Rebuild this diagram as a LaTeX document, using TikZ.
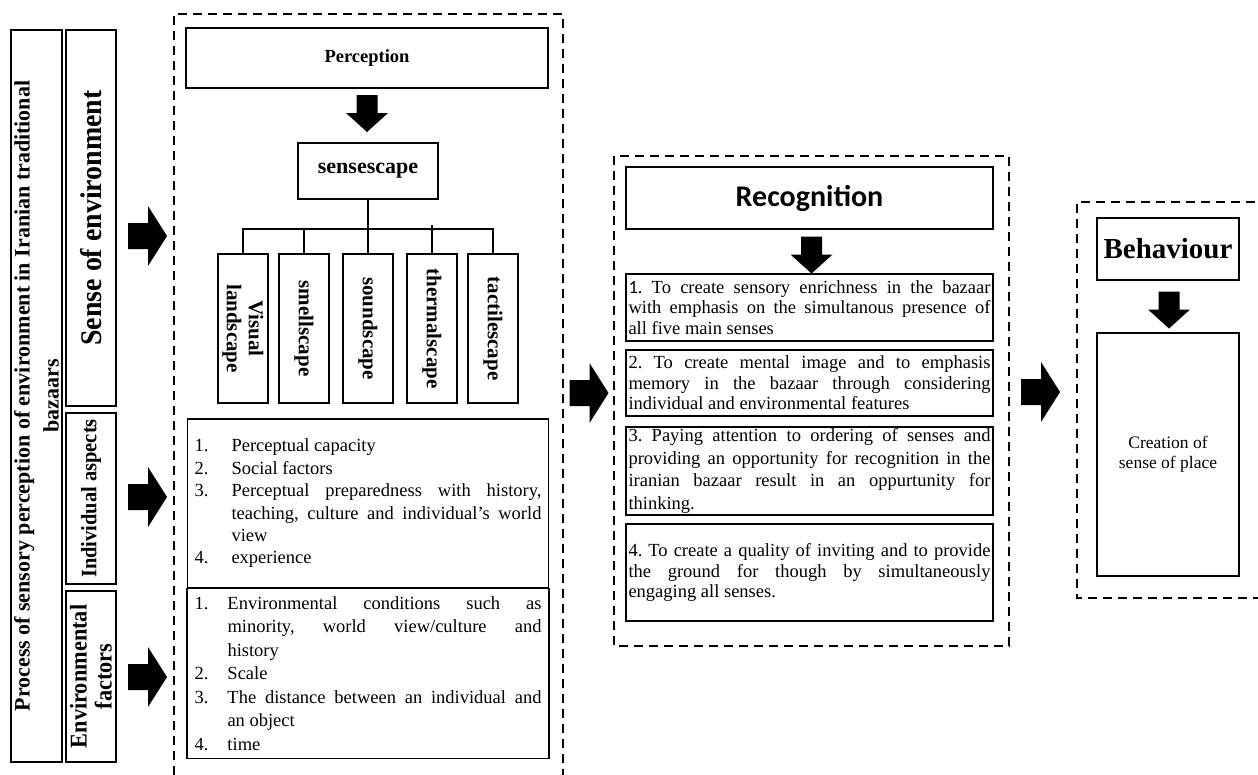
\documentclass[tikz,border=0pt]{standalone}
\usepackage{fontspec}
\setmainfont{Liberation Serif}
\newfontfamily\carl{Carlito}
\newfontfamily\cond[FakeStretch=0.93]{Liberation Serif}
\frenchspacing
\newcommand\jl[2]{\makebox[#1pt][s]{#2}}
\newcommand\num[1]{\makebox[37pt][l]{#1}}
\newcommand\numb[1]{\makebox[33pt][l]{#1}}
% block arrow pointing right, centred on a named coordinate
\newcommand\rarrow[3]{\coordinate (#1) at (#2,#3);
  \fill ([shift={(-19.5,-13)}]#1) -- ++(20,0) -- ++(0,-17) -- ++(19,30) -- ++(-19,30) -- ++(0,-17) -- ++(-20,0) -- cycle;}
% block arrow pointing down, centred on a named coordinate
\newcommand\darrow[3]{\coordinate (#1) at (#2,#3);
  \fill ([shift={(-10.5,-18.5)}]#1) -- ++(21,0) -- ++(0,18) -- ++(10.5,0) -- ++(-21,19) -- ++(-21,-19) -- ++(10.5,0) -- cycle;}
\begin{document}
\begin{tikzpicture}[x=1pt,y=-1pt,
  box/.style={draw,line width=1.6pt,inner sep=0pt},
  dbox/.style={draw,line width=1.5pt,dash pattern=on 9pt off 6pt},
  link/.style={draw,line width=1.6pt},
  vtxt/.style={font=\bfseries\fontsize{21}{22}\selectfont,align=center},
  listtxt/.style={font=\fontsize{18.5}{22.4}\selectfont,align=left},
  itemtxt/.style={font=\fontsize{18.5}{20.5}\selectfont,align=left},
]
\useasboundingbox (0,0) rectangle (1258,774);

% left column
\node[box,rotate=90,minimum width=732,minimum height=51,align=center,font=\bfseries\fontsize{22}{29}\selectfont] (proc) at (36.5,396)
  {Process of sensory perception of environment in Iranian traditional\\bazaars};
\node[box,rotate=90,minimum width=376,minimum height=50,font=\cond\bfseries\fontsize{30}{31}\selectfont] (sense) at (91,218)
  {Sense of environment};
\node[box,rotate=90,minimum width=171,minimum height=50,font=\cond\bfseries\fontsize{22}{23}\selectfont] (indiv) at (91,498.5)
  {Individual aspects};
\node[box,rotate=90,minimum width=171,minimum height=50,align=center,font=\cond\bfseries\fontsize{24}{25}\selectfont] (envf) at (91,676.5)
  {Environmental\\factors};

\rarrow{a1}{147.5}{236}
\rarrow{a2}{147.5}{497}
\rarrow{a3}{147.5}{677}

% perception panel
\draw[dbox] (174,790) -- (174,14) -- (563,14) -- (563,790);
\node[box,minimum width=362,minimum height=60,font=\bfseries\fontsize{18.5}{20}\selectfont] (perc) at (367,58) {Perception};
\darrow{d1}{367}{113.5}
\node[box,minimum width=140,minimum height=56,font=\bfseries\fontsize{22}{24}\selectfont] (ss) at (368,171) {sensescape};

\node[box,vtxt,rotate=-90,minimum width=149,minimum height=50] (v1) at (243,328.5) {Visual\\landscape};
\node[box,vtxt,rotate=-90,minimum width=149,minimum height=50] (v2) at (304,328.5) {smellscape};
\node[box,vtxt,rotate=-90,minimum width=149,minimum height=50] (v3) at (368,328.5) {soundscape};
\node[box,vtxt,rotate=-90,minimum width=149,minimum height=50] (v4) at (432,328.5) {thermalscape};
\node[box,vtxt,rotate=-90,minimum width=149,minimum height=50] (v5) at (493,328.5) {tactilescape};
\coordinate (bar) at (368,229);
\draw[link] (ss.south) -- (ss.south |- bar);
\draw[link] (v1.west) -- (v1.west |- bar) -- (v5.west |- bar) -- (v5.west);
\draw[link] (v2.west) -- (v2.west |- bar);
\draw[link] (v3.west) -- (v3.west |- bar);
\draw[link] (v4.west) -- ++(0,-28);

\node[box,listtxt,minimum width=361,minimum height=169] (il) at (368,503.5) {%
\num{1.}Perceptual capacity\\
\num{2.}Social factors\\
\num{3.}\jl{310}{Perceptual preparedness with history,}\\
\hspace*{37pt}\jl{310}{teaching, culture and individual’s world}\\
\hspace*{37pt}view\\
\num{4.}experience};
\node[box,minimum width=362,minimum height=170,font=\fontsize{18.5}{23.5}\selectfont,align=left] (el) at (368,673.5) {%
\numb{1.}\jl{314}{Environmental conditions such as}\\
\hspace*{33pt}\jl{314}{minority, world view/culture and}\\
\hspace*{33pt}history\\
\numb{2.}Scale\\
\numb{3.}\jl{314}{The distance between an individual and}\\
\hspace*{33pt}an object\\
\numb{4.}time};

\rarrow{a4}{589}{393}

% recognition panel
\draw[dbox] (614,156) rectangle (1009,646);
\node[box,minimum width=367,minimum height=62,font=\carl\bfseries\fontsize{30}{32}\selectfont] (rec) at (809.5,198) {Recognition};
\darrow{d2}{811.5}{255}
\node[box,itemtxt,minimum width=367,minimum height=67] (i1) at (809.5,307.5) {%
\jl{362}{{\carl 1}. To create sensory enrichness in the bazaar}\\
\jl{362}{with emphasis on the simultanous presence of}\\
all five main senses};
\node[box,itemtxt,minimum width=367,minimum height=66] (i2) at (809.5,383) {%
\jl{362}{2. To create mental image and to emphasis}\\
\jl{362}{memory in the bazaar through considering}\\
individual and environmental features};
\node[box,minimum width=367,minimum height=88,font=\fontsize{18.5}{22.5}\selectfont,align=left] (i3) at (809.5,471) {%
\jl{362}{3. Paying attention to ordering of senses and}\\
\jl{362}{providing an opportunity for recognition in the}\\
\jl{362}{iranian bazaar result in an oppurtunity for}\\
thinking.};
\node[box,itemtxt,minimum width=367,minimum height=97] (i4) at (809.5,572.5) {%
\jl{362}{4. To create a quality of inviting and to provide}\\
\jl{362}{the ground for though by simultaneously}\\
engaging all senses.};

\rarrow{a5}{1040.5}{392}

% behaviour panel
\draw[dbox] (1270,202) -- (1077,202) -- (1077,598) -- (1270,598);
\node[box,minimum width=142,minimum height=62,font=\bfseries\fontsize{29}{31}\selectfont] (beh) at (1168,249) {Behaviour};
\darrow{d3}{1169}{310}
\node[box,minimum width=142,minimum height=243,align=center,font=\fontsize{17.5}{20}\selectfont] (cre) at (1168,454.5) {Creation of\\sense of place};
\end{tikzpicture}
\end{document}
